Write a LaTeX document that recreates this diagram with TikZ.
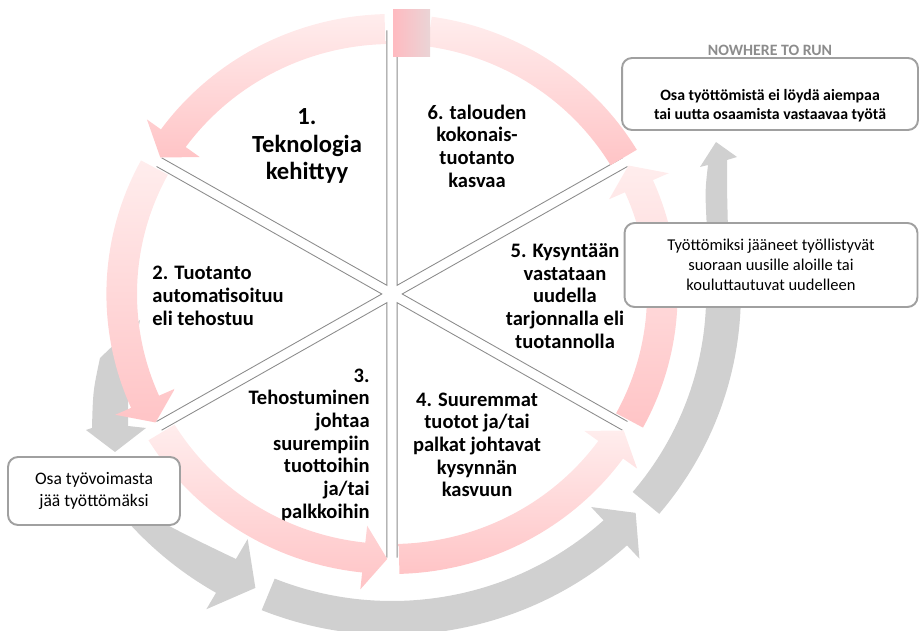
\documentclass[tikz,border=0pt]{standalone}
\usepackage{fontspec}
\setmainfont{Carlito}
\usepackage{tikz}

\definecolor{pinkTop}{RGB}{255,237,237}
\definecolor{pinkBot}{RGB}{255,196,198}
\definecolor{sqLeft}{RGB}{255,186,192}
\definecolor{sqRight}{RGB}{234,212,214}
\definecolor{grayArrow}{RGB}{208,208,208}
\definecolor{boxLine}{RGB}{160,160,160}
\definecolor{titleGray}{RGB}{140,140,140}

\begin{document}
\begin{tikzpicture}[x=0.02cm, y=0.02cm,
  pinkarrow/.style={top color=pinkTop, bottom color=pinkBot, draw=none},
  grayarrow/.style={fill=grayArrow, draw=none},
  wedgeline/.style={draw=black!45, line width=0.5pt},
  sectortext/.style={font=\fontsize{11.7}{12.9}\selectfont\bfseries, inner sep=0pt},
  infobox/.style={draw=boxLine, line width=1.1pt, rounded corners=0.2cm, fill=white, align=center, inner sep=2pt}]
  \useasboundingbox (0,0) rectangle (919,631);

  % gray arrows outside the cycle
  \path[grayarrow] (100,273) .. controls (93,240) .. (92,203) -- (86,201) -- (115,179) -- (146,203) -- (128,205) .. controls (128,250) .. (140,311) -- cycle;
  \path[grayarrow] (707,401) .. controls (705,440) .. (708,466) -- (700,464) -- (716,489) -- (737,474) -- (727,471) .. controls (727,440) .. (728,401) -- cycle;
  \begin{scope}[shift={(392,337)}, xscale=1.02]
    \path[grayarrow] (220:345) arc[start angle=220, end angle=240, radius=345] -- (240:364) -- (245.5:323) -- (240:283) -- (240:306) .. controls (233:311) and (226:321) .. (220:330) -- cycle;
    \path[grayarrow] (248:341) arc[start angle=248, end angle=312.5, radius=341] -- (312.5:359) -- (317.5:324) -- (312.5:289) -- (312.5:307) arc[start angle=312.5, end angle=248, radius=307] -- cycle;
    \path[grayarrow] (320:342) arc[start angle=320, end angle=370, radius=342] -- (370:308) arc[start angle=370, end angle=320, radius=308] -- cycle;

    % sector borders
    \foreach \m in {120,180,...,420}
      \draw[wedgeline] (\m:10) ++(\m+30:255) -- (\m:10) -- ++(\m-30:255);
  \end{scope}

  % sector texts
  \node[sectortext, font=\fontsize{14}{15.6}\selectfont\bfseries, align=center] (s1) at (307,485) {1.\\Teknologia\\kehittyy};
  \node[sectortext, align=left, anchor=west] (s2) at (152,335) {2. Tuotanto\\automatisoituu\\eli tehostuu};
  \node[sectortext, align=right, anchor=east] (s3) at (370,186) {3.\\Tehostuminen\\johtaa\\suurempiin\\tuottoihin\\ja/tai\\palkkoihin};
  \node[sectortext, align=center] (s4) at (477,186) {4. Suuremmat\\tuotot ja/tai\\palkat johtavat\\kysynnän\\kasvuun};
  \node[sectortext, align=center] (s5) at (565,335) {5. Kysyntään\\vastataan\\uudella\\tarjonnalla eli\\tuotannolla};
  \node[sectortext, align=center] (s6) at (477,485) {6. talouden\\kokonais-\\tuotanto\\kasvaa};

  % pink cycle arrows
  \begin{scope}[shift={(392,337)}, xscale=1.02]
    \foreach \t [evaluate=\t as \ta using \t+1.5, evaluate=\t as \tb using \t+54, evaluate=\t as \tc using \t+59] in {90,150,210,270,330}
      \path[pinkarrow] (\ta:280) arc[start angle=\ta, end angle=\tb, radius=280] -- (\tb:297) -- (\tc:265) -- (\tb:233) -- (\tb:250) arc[start angle=\tb, end angle=\ta, radius=250] -- cycle;
    \path[pinkarrow] (31:280) arc[start angle=31, end angle=82, radius=280] -- (82:250) arc[start angle=82, end angle=31, radius=250] -- cycle;
  \end{scope}
  \path[left color=sqLeft, right color=sqRight] (393,574) rectangle (430,621);

  % boxes
  \node[infobox, minimum width=3.44cm, minimum height=1.36cm, font=\fontsize{10}{12.2}\selectfont] (jobless) at (94,140) {Osa työvoimasta\\jää työttömäksi};
  \node[infobox, minimum width=5.86cm, minimum height=1.68cm, font=\fontsize{9.4}{11.3}\selectfont] (reemployed) at (771,366) {Työttömiksi jääneet työllistyvät\\suoraan uusille aloille tai\\kouluttautuvat uudelleen};
  \node[infobox, minimum width=5.92cm, minimum height=1.44cm] (nowork) at (770,537) {};
  \node[font=\fontsize{9}{10.6}\selectfont\bfseries, align=center, inner sep=0pt] (noworktext) at (770,525) {Osa työttömistä ei löydä aiempaa\\tai uutta osaamista vastaavaa työtä};
  \node[font=\fontsize{9}{11}\selectfont\bfseries, text=titleGray, inner sep=0pt] (title) at (770,581) {NOWHERE TO RUN};
\end{tikzpicture}
\end{document}
